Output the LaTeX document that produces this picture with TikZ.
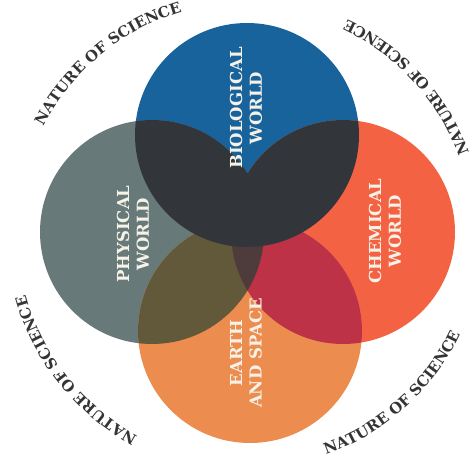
\documentclass[tikz,border=0pt]{standalone}
\usepackage{fontspec}
\setmainfont{DejaVu Serif}
\usetikzlibrary{decorations.text}

\definecolor{biocol}{RGB}{24,99,156}
\definecolor{physcol}{RGB}{103,122,121}
\definecolor{chemcol}{RGB}{244,98,68}
\definecolor{earthcol}{RGB}{236,140,78}
\definecolor{darkmix}{RGB}{50,54,59}
\definecolor{physearth}{RGB}{98,89,58}
\definecolor{chemearth}{RGB}{190,50,72}
\definecolor{coremix}{RGB}{78,60,60}
\definecolor{labelcol}{RGB}{246,242,232}
\definecolor{ringcol}{RGB}{52,52,52}

\begin{document}
\begin{tikzpicture}[
        x=0.02cm, y=0.02cm,
        world/.style={text=labelcol, rotate=90, align=center,
          font=\fontsize{9.4}{11.2}\selectfont\bfseries},
        ring/.style={decorate, decoration={text along path, text align=center,
          text={|\fontsize{8.5}{10}\selectfont\bfseries\color{ringcol}|NATURE OF SCIENCE}}}
      ]
        \useasboundingbox (0,0) rectangle (471,467);
        \coordinate (bio) at (247,332);
        \coordinate (phys) at (152,235);
        \coordinate (chem) at (343,235);
        \coordinate (earth) at (250,136);
        \coordinate (c) at (248,234);

        % the four circles
        \fill[biocol] (bio) circle[radius=112];
        \fill[physcol] (phys) circle[radius=112];
        \fill[chemcol] (chem) circle[radius=112];
        \fill[earthcol] (earth) circle[radius=112];

        % overlaps
        \begin{scope}
          \clip (earth) circle[radius=112];
          \fill[physearth] (phys) circle[radius=112];
          \fill[chemearth] (chem) circle[radius=112];
          \clip (phys) circle[radius=112];
          \fill[coremix] (chem) circle[radius=112];
        \end{scope}
        \begin{scope}
          \clip (bio) circle[radius=112];
          \fill[darkmix] (phys) circle[radius=112] (chem) circle[radius=112];
        \end{scope}

        \node[world] (biolabel) at (246,359) {BIOLOGICAL\\WORLD};
        \node[world] (physlabel) at (133,233) {PHYSICAL\\WORLD};
        \node[world] (chemlabel) at (385,236) {CHEMICAL\\WORLD};
        \node[world] (earthlabel) at (246,114) {EARTH\\AND SPACE};

        % text round the outside
        \path[ring] ([shift={(155:231)}]c) arc[start angle=155, end angle=104, radius=231];
        \path[ring] ([shift={(243:231)}]c) arc[start angle=243, end angle=194, radius=231];
        \path[ring] ([shift={(18:235)}]c) arc[start angle=18, end angle=67, radius=235];
        \path[ring] ([shift={(287:235)}]c) arc[start angle=287, end angle=337, radius=235];
      \end{tikzpicture}
\end{document}
